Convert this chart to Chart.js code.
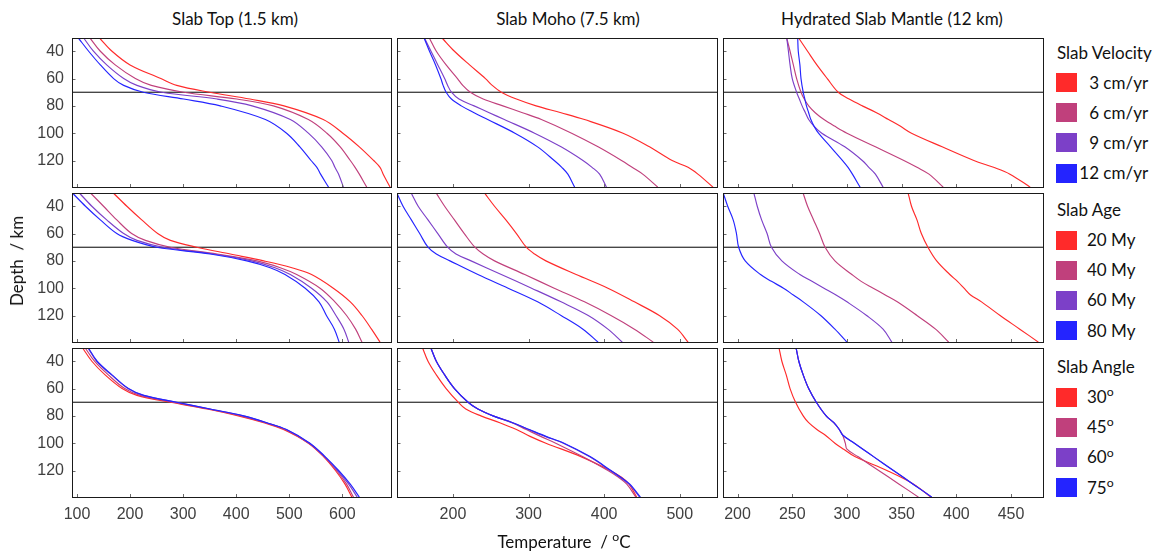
<!DOCTYPE html>
<html>
<head>
<meta charset="utf-8">
<script src="https://cdn.jsdelivr.net/npm/chart.js@4.4.1/dist/chart.umd.min.js"></script>
<style>
  html, body { margin:0; padding:0; background:#fff; }
  body { width:1158px; height:554px; position:relative; overflow:hidden; font-family: Lato, 'Open Sans', sans-serif; color:#111; }
  canvas { position:absolute; }
  .txt { position:absolute; white-space:nowrap; font-size:17px; line-height:20px; height:20px; }
  .ctr { transform:translateX(-50%); }
  .sw { position:absolute; width:21px; height:19px; }
  sup { font-size:0.72em; vertical-align:0; position:relative; top:-0.55em; }
</style>
</head>
<body>
<script>
// ---------------- DATA ----------------
// Column titles and axis labels
const columnTitles = ['Slab Top (1.5 km)', 'Slab Moho (7.5 km)', 'Hydrated Slab Mantle (12 km)'];
const yAxisTitle = 'Depth&nbsp; / km';
const xAxisTitle = 'Temperature&nbsp; / <sup>o</sup>C';

// Tick labels
const depthTicks = [40, 60, 80, 100, 120];
const tempTicksTop = [100, 200, 300, 400, 500, 600];
const tempTicksMoho = [200, 300, 400, 500];
const tempTicksHyd = [200, 250, 300, 350, 400, 450];
const depthMarker = 70;

// Legend groups
const velocityTitle = 'Slab Velocity';
const velocityLabels = ['3', '6', '9', '12'];
const ageTitle = 'Slab Age';
const ageLabels = ['20', '40', '60', '80'];
const angleTitle = 'Slab Angle';
const angleLabels = ['30', '45', '60', '75'];

// Row 1: slab velocity (3, 6, 9, 12 cm/yr) — temperature (°C) at each depth (km)
const velTopDepth = [30.5, 40, 50, 60, 65, 70, 75, 80, 90, 100, 110, 120, 125, 130, 139.5];
const velTop3  = [143, 166, 200, 258, 288, 350, 426, 490, 564, 601, 632, 659, 671, 677, 690];
const velTop6  = [125, 144, 172, 210, 240, 301, 401, 470, 536, 571, 596, 615, 624, 632, 646];
const velTop9  = [113, 131, 156, 188, 213, 260, 364, 430, 502, 536, 561, 580, 586, 593, 602];
const velTop12 = [103, 122, 144, 169, 188, 225, 301, 370, 455, 495, 520, 541, 552, 559, 574];

const velMohoDepth = [30.5, 40, 50, 60, 65, 70, 75, 80, 85, 90, 100, 110, 120, 125, 130, 139.5];
const velMoho3  = [186, 202, 222, 243, 252, 264, 284, 310, 343, 374, 425, 460, 490, 511, 524, 544];
const velMoho6  = [169, 178, 191, 206, 213, 223, 240, 266, 292, 317, 357, 392, 423, 437, 451, 471];
const velMoho9  = [162.5, 171, 180, 189, 193, 198, 208, 228, 248, 268, 308, 343, 372, 384, 394, 403];
const velMoho12 = [162, 169, 177, 184, 187, 191, 198, 211, 228, 246, 282, 312, 334, 344, 352, 361];

const velHydDepth = [30.5, 40, 50, 60, 70, 75, 80, 85, 90, 95, 100, 110, 120, 125, 130, 139.5];
const velHyd3  = [256, 264, 272.5, 282, 292, 302, 314, 327, 338, 349, 359, 387, 416, 434, 449, 467.5];
const velHyd6  = [245, 248, 251, 254, 258, 261, 265, 271, 279, 289, 300, 326, 352, 364, 375, 388];
const velHyd9  = [245, 246.5, 248, 250, 254, 256.5, 259, 262, 265, 270, 277, 298, 314, 320, 326, 333];
const velHyd12 = [255, 255.5, 257, 258, 260, 261.5, 263, 265, 267, 270, 274, 285, 296, 301, 305, 312];

// Row 2: slab age (20, 40, 60, 80 My)
const ageTopDepth = [30.5, 40, 50, 60, 65, 70, 75, 80, 85, 90, 100, 110, 120, 130, 139.5];
const ageTop20 = [169, 194, 222, 252, 276, 326, 389, 452, 505, 542, 583, 615, 637, 655, 671];
const ageTop40 = [126, 150, 175, 203, 229, 276, 364, 439, 483, 514, 558, 586, 608, 625, 637];
const ageTop60 = [105, 128, 156, 188, 213, 262, 357, 429, 473, 502, 542, 571, 588, 603, 612];
const ageTop80 = [92, 116, 144, 175, 204, 250, 351, 420, 464, 492, 530, 556, 570, 585, 594];

const ageMohoDepth = [30.5, 40, 50, 60, 70, 75, 80, 90, 100, 110, 120, 130, 139.5];
const ageMoho20 = [242, 255, 270, 284, 297, 308, 323, 363, 405, 440, 473, 497, 511];
const ageMoho40 = [178, 189, 202, 215, 229, 240, 255, 295, 334, 374, 409, 440, 465];
const ageMoho60 = [145, 154, 167, 180, 193, 204, 224, 264, 304, 343, 379, 405, 424];
const ageMoho80 = [126, 134, 145, 156, 167, 178, 196, 233, 273, 312, 343, 372, 392];

const ageHydDepth = [30.5, 40, 50, 60, 70, 80, 90, 95, 100, 105, 110, 120, 130, 139.5];
const ageHyd20 = [356, 359, 364, 368, 374, 382, 394, 401, 407, 413, 423, 440, 458, 475];
const ageHyd40 = [260, 264, 269.5, 275, 280, 289, 304.5, 313, 324, 335, 346, 364, 381, 393];
const ageHyd60 = [215, 218, 222, 227, 231, 240.5, 257, 268, 279, 290, 300, 318, 333, 341];
const ageHyd80 = [187, 191, 196, 199, 201, 207, 221, 231, 242, 251, 260, 276, 289, 300];

// Row 3: slab angle (30, 45, 60, 75 degrees)
const angTopDepth = [30.5, 40, 50, 60, 65, 70, 75, 80, 85, 90, 100, 110, 120, 130, 139.5];
const angTop30 = [111, 128, 153, 185, 213, 276, 345, 404, 452, 489, 536, 565, 587, 605, 618];
const angTop45 = [116, 133, 159, 190, 219, 282, 348, 409, 455, 492, 537, 566, 589, 608, 621];
const angTop60 = [121, 137, 165, 196, 225, 287, 350, 413, 457, 494, 538, 567, 591, 612, 628];
const angTop75 = [122, 138, 166, 197, 226, 288, 351, 414, 458, 495, 539, 568, 593, 615, 632];

const angMohoDepth = [30.5, 40, 50, 60, 70, 75, 80, 85, 90, 95, 100, 110, 120, 125, 130, 139.5];
const angMoho30 = [160, 167, 178, 191, 207, 217, 237, 262, 284, 302, 323, 370, 408, 423, 433, 443];
const angMoho45 = [171, 178, 189, 202, 220, 233, 253, 278, 297, 316, 336, 372, 405, 419, 430, 442];
const angMoho60 = [171, 178, 189, 202, 220, 233, 253, 279, 300, 322, 346, 381, 408, 421, 433, 447];
const angMoho75 = [171, 178, 189, 202, 220, 233, 253, 279, 301, 323, 347, 382, 409, 422, 434, 448];

const angHydDepth = [30.5, 40, 50, 60, 70, 80, 85, 90, 94, 100, 104.4, 110, 120, 130, 139.5];
const angHyd30 = [238, 240.5, 244.5, 248, 253, 260, 265, 272.5, 280, 289, 297, 307.6, 336.5, 361, 376.7];
const angHyd45 = [253.6, 256, 260, 265, 272, 281, 288, 293, 296, 298.5, 300, 310.4, 329, 347.7, 365.4];
const angHyd60 = [253.6, 256, 260, 265, 272, 281, 288, 293, 296, 306.8, 314.6, 324.6, 342.5, 360.5, 377.6];
const angHyd75 = [253.6, 256, 260, 265, 272, 281, 288, 293, 296, 306.8, 314.6, 324.6, 342.5, 360.5, 377.6];

// ---------------- STYLE / LAYOUT ----------------
const seriesColors = ['#ff2a2a', '#c0407c', '#7c40c8', '#2424ff'];
const colLeft = [72, 397, 723];
const plotW = [319, 320, 320];
const rowTop = [38, 193, 348];
const plotH = 149;
const xMin = [90.6, 126, 186.7];
const xMax = [691.7, 549.3, 479.2];
const depthMin = 30.3, depthMax = 139.4;
const xTickSets = [tempTicksTop, tempTicksMoho, tempTicksHyd];
const tickFont = { family: "'Liberation Sans', Arial, sans-serif", size: 16 };
Chart.defaults.font.family = tickFont.family;
Chart.defaults.font.size = tickFont.size;

const panels = [
  { r:0, c:0, depth: velTopDepth,  series: [velTop3, velTop6, velTop9, velTop12] },
  { r:0, c:1, depth: velMohoDepth, series: [velMoho3, velMoho6, velMoho9, velMoho12] },
  { r:0, c:2, depth: velHydDepth,  series: [velHyd3, velHyd6, velHyd9, velHyd12] },
  { r:1, c:0, depth: ageTopDepth,  series: [ageTop20, ageTop40, ageTop60, ageTop80] },
  { r:1, c:1, depth: ageMohoDepth, series: [ageMoho20, ageMoho40, ageMoho60, ageMoho80] },
  { r:1, c:2, depth: ageHydDepth,  series: [ageHyd20, ageHyd40, ageHyd60, ageHyd80] },
  { r:2, c:0, depth: angTopDepth,  series: [angTop30, angTop45, angTop60, angTop75] },
  { r:2, c:1, depth: angMohoDepth, series: [angMoho30, angMoho45, angMoho60, angMoho75] },
  { r:2, c:2, depth: angHydDepth,  series: [angHyd30, angHyd45, angHyd60, angHyd75] },
];

const framePlugin = {
  id: 'frameTicks',
  afterDatasetsDraw(chart) {
    const { ctx, chartArea: a, scales: { x, y } } = chart;
    ctx.save();
    ctx.lineWidth = 1;
    ctx.strokeStyle = '#6a6a6a';
    ctx.beginPath();
    x.ticks.forEach(t => {
      const px = Math.round(x.getPixelForValue(t.value)) + 0.5;
      ctx.moveTo(px, a.bottom); ctx.lineTo(px, a.bottom - 3);
    });
    y.ticks.forEach(t => {
      const py = Math.round(y.getPixelForValue(t.value)) + 0.5;
      ctx.moveTo(a.left, py); ctx.lineTo(a.left + 3.5, py);
    });
    ctx.stroke();
    ctx.strokeStyle = '#1a1a1a';
    ctx.strokeRect(Math.round(a.left) + 0.5, Math.round(a.top) + 0.5,
                   Math.round(a.right - a.left), Math.round(a.bottom - a.top));
    ctx.restore();
  }
};

function makePanel(p) {
  const { r, c } = p;
  const L = c === 0 ? 60 : 2;
  const B = r === 2 ? 36 : 3;
  const w = L + plotW[c] + 3;
  const h = 1 + plotH + B;
  const cv = document.createElement('canvas');
  cv.width = w; cv.height = h;
  cv.style.width = w + 'px'; cv.style.height = h + 'px';
  cv.style.left = (colLeft[c] - L) + 'px';
  cv.style.top = (rowTop[r] - 1) + 'px';
  document.body.appendChild(cv);

  const datasets = [];
  // draw order: dataset 0 on top -> blue first
  for (let i = 3; i >= 0; i--) {
    datasets.push({
      data: p.depth.map((d, k) => ({ x: p.series[i][k], y: d })),
      showLine: true, borderColor: seriesColors[i], backgroundColor: seriesColors[i],
      borderWidth: 1.15, pointRadius: 0, tension: 0.35, fill: false
    });
  }
  datasets.push({
    data: [{ x: xMin[c], y: depthMarker }, { x: xMax[c], y: depthMarker }],
    showLine: true, borderColor: '#000', borderWidth: 1, pointRadius: 0, tension: 0
  });

  new Chart(cv, {
    type: 'scatter',
    data: { datasets },
    options: {
      responsive: false, animation: false, devicePixelRatio: 1,
      layout: { autoPadding: false, padding: { top: 1, right: 3, left: 0, bottom: 0 } },
      plugins: { legend: { display: false }, tooltip: { enabled: false } },
      scales: {
        x: {
          type: 'linear', position: 'bottom', min: xMin[c], max: xMax[c],
          grid: { display: false, drawTicks: false }, border: { display: false },
          ticks: { display: r === 2, color: '#404040', padding: 8, maxRotation: 0, autoSkip: false, font: tickFont },
          afterBuildTicks: s => { s.ticks = xTickSets[c].map(v => ({ value: v })); },
          afterFit: s => { s.height = B; s.paddingLeft = 0; s.paddingRight = 0; s.paddingTop = 0; s.paddingBottom = 0; }
        },
        y: {
          type: 'linear', position: 'left', reverse: true, min: depthMin, max: depthMax,
          grid: { display: false, drawTicks: false }, border: { display: false },
          ticks: { display: c === 0, color: '#404040', padding: 8, autoSkip: false, font: tickFont },
          afterBuildTicks: s => { s.ticks = depthTicks.map(v => ({ value: v })); },
          afterFit: s => { s.width = L; s.paddingLeft = 0; s.paddingRight = 0; s.paddingTop = 0; s.paddingBottom = 0; }
        }
      }
    },
    plugins: [framePlugin]
  });
}

panels.forEach(makePanel);

// ---------------- TEXT ----------------
function addText(html, left, top, cls, extraStyle) {
  const d = document.createElement('div');
  d.className = 'txt ' + (cls || '');
  d.innerHTML = html;
  d.style.left = left + 'px';
  d.style.top = top + 'px';
  if (extraStyle) Object.assign(d.style, extraStyle);
  document.body.appendChild(d);
  return d;
}

const titleCenters = [235, 568, 892];
columnTitles.forEach((t, i) => addText(t, titleCenters[i], 9, 'ctr'));

addText(xAxisTitle, 564, 532, 'ctr');
addText(yAxisTitle, 16.5, 251, '', { transform: 'translate(-50%, 0) rotate(-90deg)', transformOrigin: '50% 50%' });

function legendGroup(title, labels, unit, titleY, firstY, numRightAlign) {
  addText(title, 1057, titleY - 10);
  labels.forEach((lab, i) => {
    const cy = firstY + i * 30.2;
    const sw = document.createElement('div');
    sw.className = 'sw';
    sw.style.left = '1056px';
    sw.style.top = (cy - 9.5) + 'px';
    sw.style.background = seriesColors[i];
    document.body.appendChild(sw);
    let html;
    if (numRightAlign) {
      html = '<span style="display:inline-block;width:22px;text-align:right">' + lab + '</span>' + unit;
      addText(html, 1077, cy - 10);
    } else {
      html = lab + unit;
      addText(html, 1087, cy - 10);
    }
  });
}
legendGroup(velocityTitle, velocityLabels, ' cm/yr', 53, 82.5, true);
legendGroup(ageTitle, ageLabels, ' My', 210, 240, false);
legendGroup(angleTitle, angleLabels, '<sup>o</sup>', 367, 397, false);
</script>
</body>
</html>
